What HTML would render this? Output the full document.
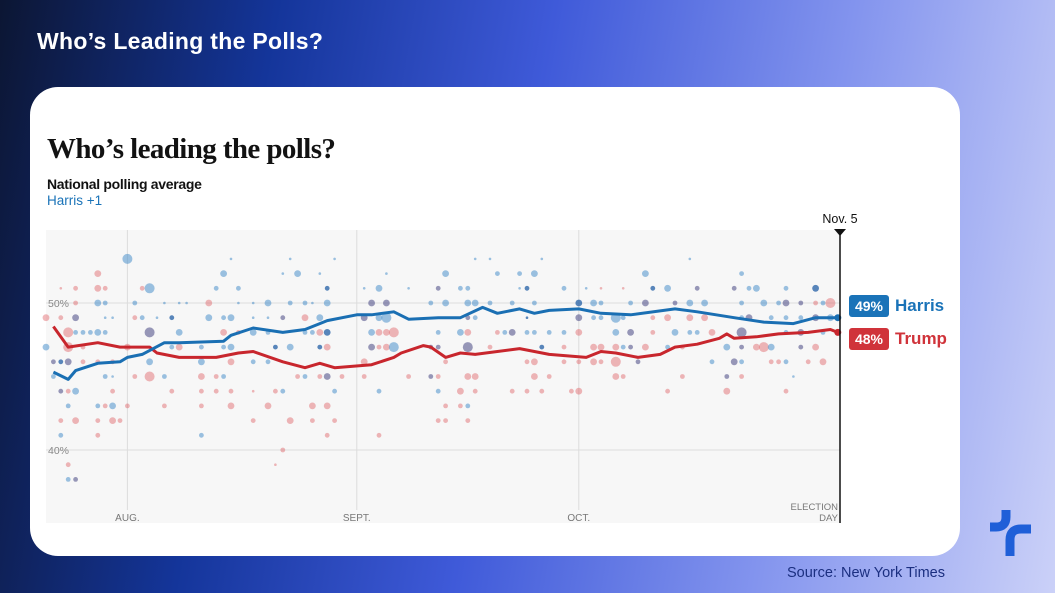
<!DOCTYPE html>
<html><head><meta charset="utf-8"><style>
body{margin:0;width:1055px;height:593px;overflow:hidden;position:relative;font-family:"Liberation Sans",sans-serif;
background:linear-gradient(100deg,#0c1633 0%,#14359a 24%,#3f5ad9 48%,#8394ee 74%,#cbd1f8 100%);}
#slide-title{position:absolute;left:37px;top:28px;color:#fff;font-weight:bold;font-size:23px;letter-spacing:0.3px;}
#card{position:absolute;left:30px;top:87px;width:930px;height:469px;background:#fff;border-radius:28px;}
#source{position:absolute;left:787px;top:565px;font-size:14.5px;color:#1b2f80;}
</style></head><body>
<div id="slide-title">Who’s Leading the Polls?</div>
<div id="card"></div>
<svg id="chart" width="1055" height="593" style="position:absolute;left:0;top:0">
<text x="47" y="158" font-family="Liberation Serif,serif" font-weight="bold" font-size="29" letter-spacing="-0.6" fill="#121212">Who’s leading the polls?</text>
<text x="47" y="189" font-weight="bold" font-size="14" fill="#121212" letter-spacing="-0.3">National polling average</text>
<text x="47" y="205" font-size="13.5" fill="#1a73b8">Harris +1</text>
<rect x="46" y="230" width="794" height="293" fill="#f7f7f7"/>
<g id="grid"></g><g id="dots"></g><g id="lines"></g>
<line x1="840" y1="230" x2="840" y2="523" stroke="#111" stroke-width="1.5"/>
<path d="M834,229 L846,229 L840,236 Z" fill="#111"/>
<text x="840" y="223" text-anchor="middle" font-size="12.5" fill="#111">Nov. 5</text>
<text x="838" y="510" text-anchor="end" font-size="9.5" fill="#777">ELECTION</text>
<text x="838" y="521" text-anchor="end" font-size="9.5" fill="#777">DAY</text>
<rect x="849" y="295" width="40" height="22" rx="3" fill="#1a73b8"/>
<text x="869" y="311" text-anchor="middle" font-weight="bold" font-size="14" fill="#fff">49%</text>
<text x="895" y="311" font-weight="bold" font-size="17" fill="#1a73b8">Harris</text>
<rect x="849" y="328" width="40" height="22" rx="3" fill="#d0333a"/>
<text x="869" y="344" text-anchor="middle" font-weight="bold" font-size="14" fill="#fff">48%</text>
<text x="895" y="344" font-weight="bold" font-size="17" fill="#d0333a">Trump</text>
<g fill="none" stroke="#1f5fd8" stroke-width="9">
<path d="M990,527 L996,527 Q1006,527 1006,517 L1006,510"/>
<path d="M1010,556 L1010,540 Q1010,529 1021,529 L1031,529"/>
</g>
</svg>
<div id="source">Source: New York Times</div>
<script>
// day 0 = July 21
const monthLabels=["AUG.","SEPT.","OCT."];
const monthDays=[11,42,72];
const yTicks=[50,40];
const harrisDays=[1,3,4,7,10,11,13,16,18,24,25,28,32,35,37,38,42,44,47,49,53,56,59,61,64,66,68,72,75,79,85,88,93,97,101,104,107];
const harrisVals=[45.3,44.8,45.4,45.9,46.0,46.3,46.5,47.3,47.3,47.4,47.8,48.3,48.0,48.2,48.6,48.8,49.2,49.2,49.4,48.9,49.0,49.0,49.7,49.3,49.6,49.3,49.5,49.6,49.3,49.2,49.6,49.4,49.0,48.7,48.6,49.0,49.0];
const trumpDays=[1,3,7,10,14,15,18,23,26,28,32,35,37,39,44,47,48,51,52,54,56,58,64,68,73,75,77,80,83,85,88,91,92,93,96,99,103,106,107];
const trumpVals=[48.4,47.0,47.3,47.0,47.0,46.6,46.3,46.3,46.6,46.7,46.0,45.6,45.9,45.6,45.8,46.3,46.6,47.1,47.0,46.3,46.6,46.5,46.9,46.5,46.3,46.7,46.6,46.3,46.5,47.0,47.2,47.6,47.9,47.6,47.7,47.9,48.0,48.2,48.0];
// poll dots: rows by percentage; entries "day size color" (t/s/m/b ; b=blue r=red p=purple d=darkblue)
const dotPcts=[53,52,51,50,49,48,47,46,45,44,43,42,41,40,39,38];
const dotRows=[
"11bb 25tb 33tb 39tb 58tb 60tb 67tb 87tb",
"7mr 24mb 32tb 34mb 37tb 46tb 54mb 61sb 64sb 66mb 81mb 94sb",
"2tr 4sr 7mr 8sr 13sr 14bb 23sb 26sb 38sd 43tb 45mb 49tb 53sp 56sb 57sb 64tb 65sd 70sb 73tb 75tr 78tr 82sd 84mb 88sp 93sp 95sb 96mb 100sb 104md",
"4sr 7mb 8sb 12sb 16tb 18tb 19tb 22mr 26tb 28tb 30mb 33sb 35sb 36tb 38mb 44mp 46mp 52sb 54mb 57mb 58mb 60sb 63sb 66sb 72md 74mb 75sb 79sb 81mp 85sp 87mb 89mb 94sb 97mb 99sb 100mp 102sp 104sr 105sb 106br",
"0mr 2sr 4mp 8tb 9tb 12sr 13sb 15tb 17sd 22mb 24sb 25mb 28tb 30tb 32sp 35mr 37mb 43mp 45mb 46bb 57sp 58sb 65td 72mp 74sb 75sb 77bb 78sb 82sr 84mr 87mr 89mr 94sb 95mp 98sb 100sb 102sb 104mp 106mb",
"3br 4sb 5sb 6sb 7mb 8sb 14bp 18mb 24mr 26sr 28mb 30sb 35sb 36sb 37mr 38md 44mb 45mr 46mr 47br 53sb 56mb 57mr 61sr 62sb 63mp 65sb 66sb 68sb 70sb 72mr 77mb 79mp 82sr 85mb 87sb 88sb 90mr 94bp 100sb 102mp 105sb",
"0mb 3br 5sr 11mr 18mr 17sb 21sb 24sb 25mb 31sd 33mb 37sd 38mr 44mp 45sr 46mr 47bb 52sp 53sp 57bp 60sr 67sd 70sr 74mr 75mr 77mr 78sb 79sp 81mr 84sb 86sr 92mb 94sp 96mr 97br 98mb 102sp 104mr",
"1sp 2sd 3mp 5sr 7sr 9sr 14mb 21mb 25mr 28sb 30sb 43mr 54sr 65sr 66mr 70sr 72sr 74mr 75sr 77br 80sp 90sb 93mp 94sb 98sr 99sr 100sb 103sr 105mr",
"1sb 8sb 9tb 12sr 14br 16sb 21mr 23sr 24sb 34sr 35sb 37sr 38mp 40sr 43sr 49sr 52sp 53sr 57mr 58mr 66mr 68sr 77mr 78sr 86sr 92sp 94sr 101tb",
"2sp 3sr 4mb 9sr 17sr 21sr 23sr 25sr 28tr 31sr 32sb 39sb 45sb 53sb 56mr 58sr 63sr 65sr 67sr 71sr 72mr 84sr 92mr 100sr",
"3sb 7sb 8sr 9mb 11sr 16sr 21sr 25mr 30mr 36mr 38mr 54sr 56sr 57sb",
"2sr 4mr 7sr 9mr 10sr 28sr 33mr 36sr 39sr 53sr 54sr 57sr",
"2sb 7sr 21sb 38sr 45sr",
"32sr",
"3sr 31tr",
"3sb 4sp"
];
const X0=46,PX_PER_DAY=7.4,Y50=303,PX_PER_PT=14.7;
const xs=d=>X0+d*PX_PER_DAY;
const ys=p=>Y50-(p-50)*PX_PER_PT;
const NS="http://www.w3.org/2000/svg";
const grid=document.getElementById('grid');
yTicks.forEach((t,i)=>{
 const l=document.createElementNS(NS,'line');
 l.setAttribute('x1',46);l.setAttribute('x2',840);l.setAttribute('y1',ys(t));l.setAttribute('y2',ys(t));
 l.setAttribute('stroke','#dcdcdc');
 
 
 grid.appendChild(l);
 const tx=document.createElementNS(NS,'text');
 tx.setAttribute('x',48);tx.setAttribute('y',ys(t)+4);tx.setAttribute('font-size','10.5');tx.setAttribute('fill','#888');
 tx.textContent=t+'%';
 
 
 grid.appendChild(tx);
});
monthDays.forEach((d,i)=>{
 const l=document.createElementNS(NS,'line');
 l.setAttribute('x1',xs(d));l.setAttribute('x2',xs(d));l.setAttribute('y1',230);l.setAttribute('y2',510);
 l.setAttribute('stroke','#dcdcdc');
 
 
 grid.appendChild(l);
 const tx=document.createElementNS(NS,'text');
 tx.setAttribute('x',xs(d));tx.setAttribute('y',521);tx.setAttribute('text-anchor','middle');tx.setAttribute('font-size','10');tx.setAttribute('fill','#777');
 tx.textContent=monthLabels[i];
 
 
 grid.appendChild(tx);
});
const sizes={t:1.3,s:2.4,m:3.4,b:5};
const cols={b:'rgba(60,135,200,0.5)',r:'rgba(222,85,90,0.42)',p:'rgba(85,85,140,0.6)',d:'rgba(35,95,165,0.75)'};
const dg=document.getElementById('dots');
dotRows.forEach((row,ri)=>{
 row.split(' ').forEach(e=>{
  const m=e.match(/^(\d+)([tsmb])([brpd])$/); if(!m) return;
  const c=document.createElementNS(NS,'circle');
  c.setAttribute('cx',xs(+m[1]));c.setAttribute('cy',ys(dotPcts[ri]));c.setAttribute('r',sizes[m[2]]);c.setAttribute('fill',cols[m[3]]);
  
  
  dg.appendChild(c);
 });
});
const lg=document.getElementById('lines');
function drawLine(days,vals,color,name){
 const p=document.createElementNS(NS,'path');
 p.setAttribute('d',days.map((d,i)=>(i?'L':'M')+xs(d).toFixed(1)+','+ys(vals[i]).toFixed(1)).join(' '));
 p.setAttribute('fill','none');p.setAttribute('stroke',color);p.setAttribute('stroke-width','3');p.setAttribute('stroke-linejoin','round');
 
 
 lg.appendChild(p);
 const e=document.createElementNS(NS,'circle');
 e.setAttribute('cx',xs(days[days.length-1]));e.setAttribute('cy',ys(vals[vals.length-1]));e.setAttribute('r',3.5);e.setAttribute('fill',color);
 
 
 lg.appendChild(e);
}
drawLine(trumpDays,trumpVals,'#c8262d','trump-average-line');
drawLine(harrisDays,harrisVals,'#1a6fb3','harris-average-line');
</script>
</body></html>
